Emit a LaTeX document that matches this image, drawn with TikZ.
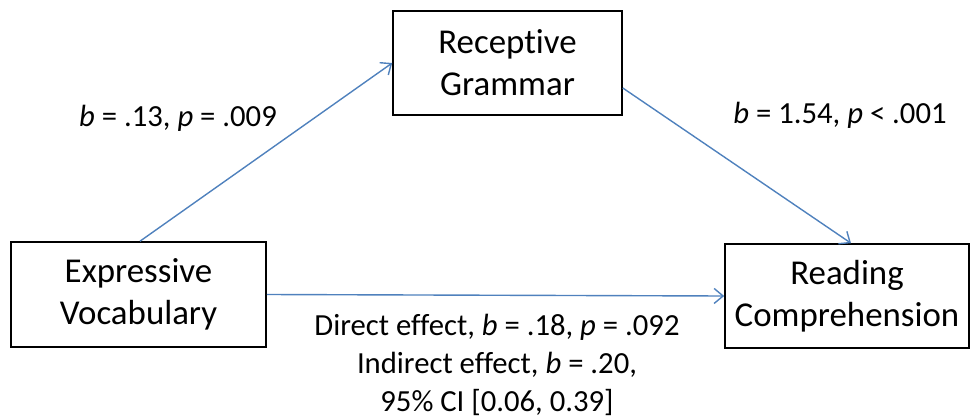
\documentclass[tikz,border=0pt]{standalone}
\usepackage{fontspec}
\setmainfont[Ligatures=NoCommon]{Carlito}
\usetikzlibrary{arrows.meta}
\definecolor{arrowblue}{HTML}{4F81BD}
\tikzset{
  varbox/.style={draw=black, line width=1.6bp, align=center, inner sep=0pt,
    font=\fontsize{35}{42}\selectfont},
  link/.style={draw=arrowblue, line width=1.4bp, -{Straight Barb[length=9bp,width=15bp]}},
  lbl/.style={align=center, inner sep=0pt, font=\fontsize{30.8}{38.5}\selectfont}
}
\begin{document}
\begin{tikzpicture}[x=1bp,y=1bp]
\useasboundingbox (0,0) rectangle (971,418);
\node[varbox, minimum width=229bp, minimum height=104bp] (rg) at (507.5,355) {Recept\kern0pt ive\\Grammar};
\node[varbox, minimum width=255bp, minimum height=105bp] (ev) at (138.5,123.5) {Expressive\\Vocabulary};
\node[varbox, minimum width=244bp, minimum height=104bp] (rc) at (847,122) {Reading\\Comprehension};
\draw[link] ([xshift=1.5bp]ev.north) -- (rg.west);
\draw[link] ([yshift=-25bp]rg.east) -- ([xshift=4bp]rc.north);
\draw[link] (ev.east) -- (rc.west);
\node[lbl] (l1) at (178,300) {\textit{b} = .13, \textit{p} = .009};
\node[lbl] (l2) at (840,303) {\textit{b} = 1.54, \textit{p} < .001};
\node[lbl] (l3) at (497,53) {Direct effect, \textit{b} = .18, \textit{p} = .092\\Indirect effect, \textit{b} = .20,\\95\% CI [0.06, 0.39]};
\end{tikzpicture}
\end{document}
